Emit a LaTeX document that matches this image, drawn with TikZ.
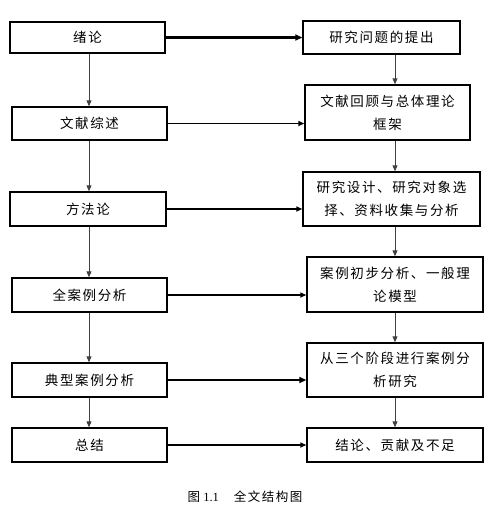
\documentclass[tikz,border=0pt]{standalone}
\usepackage{fontspec}
\setmainfont{Liberation Serif}
\newfontfamily\cjk[LetterSpace=12]{Noto Sans CJK SC}
\usetikzlibrary{arrows.meta}
\begin{document}
\begin{tikzpicture}[x=1pt,y=-1pt,
  box/.style={draw=black,line width=1.4pt,rectangle,inner sep=0pt,align=center,
    font=\cjk\fontsize{13.5}{23}\selectfont},
  varrow/.style={draw=black!75,line width=0.9pt,-{Triangle[length=6pt,width=5pt]}},
  harrow/.style={draw=black,line width=1.5pt,-{Triangle[length=6pt,width=5pt]}},
  hthick/.style={draw=black,line width=2.6pt,-{Triangle[length=7pt,width=6pt]}}]
\useasboundingbox (0,0) rectangle (492,507);
% left column
\node[box,minimum width=155pt,minimum height=31pt] (L1) at (87.5,37.5) {绪论};
\node[box,minimum width=155pt,minimum height=33pt] (L2) at (89.5,123.5) {文献综述};
\node[box,minimum width=156pt,minimum height=34pt] (L3) at (88,209) {方法论};
\node[box,minimum width=155pt,minimum height=34pt] (L4) at (89.5,295) {全案例分析};
\node[box,minimum width=155pt,minimum height=34pt] (L5) at (89.5,380) {典型案例分析};
\node[box,minimum width=155pt,minimum height=34pt] (L6) at (89.5,445) {总结};
% right column
\node[box,minimum width=157pt,minimum height=33pt] (R1) at (381.5,37.5) {研究问题的提出};
\node[box,minimum width=165pt,minimum height=55pt] (R2) at (387.5,112.5) {文献回顾与总体理论\\框架};
\node[box,minimum width=177pt,minimum height=54pt] (R3) at (391.5,199) {研究设计、研究对象选\\择、资料收集与分析};
\node[box,minimum width=176pt,minimum height=55pt] (R4) at (395,284.5) {案例初步分析、一般理\\论模型};
\node[box,minimum width=176pt,minimum height=54pt] (R5) at (395,370) {从三个阶段进行案例分\\析研究};
\node[box,minimum width=176pt,minimum height=34pt] (R6) at (395,445) {结论、贡献及不足};
% column axes
\coordinate (lx) at (89,0);
\coordinate (rx) at (395,0);
% vertical arrows
\draw[varrow] (L1.south -| lx) -- (L2.north -| lx);
\draw[varrow] (L2.south -| lx) -- (L3.north -| lx);
\draw[varrow] (L3.south -| lx) -- (L4.north -| lx);
\draw[varrow] (L4.south -| lx) -- (L5.north -| lx);
\draw[varrow] (L5.south -| lx) -- (L6.north -| lx);
\draw[varrow] (R1.south -| rx) -- (R2.north -| rx);
\draw[varrow] (R2.south -| rx) -- (R3.north -| rx);
\draw[varrow] (R3.south -| rx) -- (R4.north -| rx);
\draw[varrow] (R4.south -| rx) -- (R5.north -| rx);
\draw[varrow] (R5.south -| rx) -- (R6.north -| rx);
% horizontal arrows
\draw[hthick] (L1.east) -- (L1.east -| R1.west);
\draw[harrow] (L2.east) -- (L2.east -| R2.west);
\draw[harrow] (L3.east) -- (L3.east -| R3.west);
\draw[harrow] (L4.east) -- (L4.east -| R4.west);
\draw[hthick] (L5.east) -- (L5.east -| R5.west);
\draw[harrow] (L6.east) -- (L6.east -| R6.west);
% caption
\node[inner sep=0pt,font=\fontsize{12.5}{15}\selectfont] (cap) at (245,497) {{\cjk 图} 1.1\hspace{1.2em}{\cjk 全文结构图}};
\end{tikzpicture}
\end{document}
